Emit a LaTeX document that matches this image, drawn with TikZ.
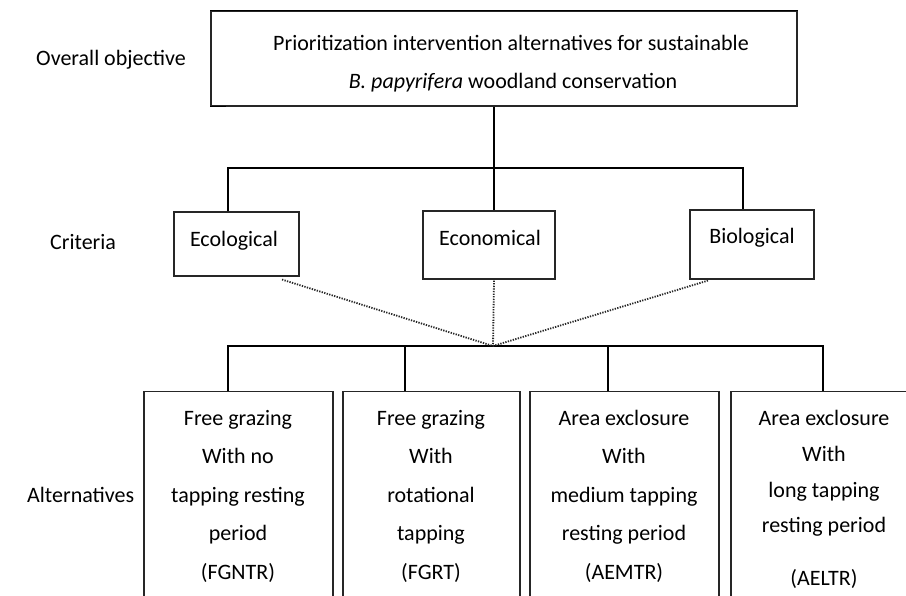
\documentclass[tikz,border=0pt]{standalone}
\usepackage{fontspec}
\setmainfont{Carlito}
\usetikzlibrary{calc}
\newcommand\fsz{\fontsize{22}{26}\selectfont}
\tikzset{
  lbl/.style={font=\fsz, inner sep=0pt, anchor=base},
  lblw/.style={font=\fsz, inner sep=0pt, anchor=base west},
  cbox/.style={draw=black!85, line width=1.1pt, inner sep=0pt, fill=none},
  conn/.style={line width=1.5pt, black},
  dotl/.style={line width=1.8pt, black!85, dash pattern=on 1.3pt off 1.3pt},
}
\begin{document}
\begin{tikzpicture}[x=1pt,y=-1pt]
\useasboundingbox (0,0) rectangle (906,596);
\clip (0,0) rectangle (906,596);
\fill[white] (0,0) rectangle (906,596);

% overall objective
\node[cbox, minimum width=586pt, minimum height=95pt] (top) at (504,58.5) {};
\draw[line width=1.8pt] (top.north west) -- (top.north east);
\draw[line width=1.5pt] (top.south west) -- ++(16,0);
\node[lbl] (t1) at (511,51) {Prioritization intervention alternatives for sustainable};
\node[lbl] (t2) at (513,89) {\textit{B. papyrifera} woodland conservation};
\node[lblw] (lo) at (36,66) {Overall objective};

% criteria
\node[cbox, minimum width=125pt, minimum height=64pt] (eco) at (236.5,244) {};
\node[cbox, minimum width=132pt, minimum height=68pt] (econ) at (489,245) {};
\node[cbox, minimum width=124pt, minimum height=69pt] (bio) at (752,244.5) {};
\node[lbl] (teco) at (234,247) {Ecological};
\node[lbl] (tecon) at (490,246) {Economical};
\node[lbl] (tbio) at (752,244) {Biological};
\node[lblw] (lc) at (50,250) {Criteria};

\coordinate (j1) at (494,168);
\coordinate (h1) at (228,168);
\coordinate (h3) at (743,168);
\draw[conn] (top.south -| j1) -- (j1 |- econ.north);
\draw[conn] (h1 |- eco.north) -- (h1) -- (h3) -- (h3 |- bio.north);

% alternatives
\node[cbox, minimum width=189pt, minimum height=270pt, anchor=north] (b1) at (238.5,391) {};
\node[cbox, minimum width=177pt, minimum height=270pt, anchor=north] (b2) at (431.5,391) {};
\node[cbox, minimum width=189pt, minimum height=270pt, anchor=north] (b3) at (624.5,391) {};
\node[cbox, minimum width=186pt, minimum height=270pt, anchor=north] (b4) at (824,391) {};
\node[lblw] (la) at (27,502) {Alternatives};

\foreach \t [count=\i] in {Free grazing, With no, tapping resting, period, (FGNTR)}
  \node[lbl] (p1l\i) at (238, 425+38.5*\i-38.5) {\t};
\foreach \t [count=\i] in {Free grazing, With, rotational, tapping, (FGRT)}
  \node[lbl] (p2l\i) at (431, 425+38.5*\i-38.5) {\t};
\foreach \t [count=\i] in {Area exclosure, With, medium tapping, resting period, (AEMTR)}
  \node[lbl] (p3l\i) at (624, 425+38.5*\i-38.5) {\t};
\foreach \t/\yy [count=\i] in {Area exclosure/425, With/461, long tapping/497, resting period/532, (AELTR)/585}
  \node[lbl] (p4l\i) at (824, \yy) {\t};

\coordinate (c) at (493,346);
\coordinate (g1) at (228,346);
\coordinate (g2) at (405,346);
\coordinate (g3) at (608,346);
\coordinate (g4) at (823,346);
\draw[conn] (g1 |- b1.north) -- (g1) -- (g4) -- (g4 |- b4.north);
\draw[conn] (g2) -- (g2 |- b2.north);
\draw[conn] (g3) -- (g3 |- b3.north);

\draw[dotl] ($(eco.south)+(45.5,3)$) -- (c);
\draw[dotl] ($(econ.south)+(5,1)$) -- (c);
\draw[dotl] ($(bio.south)+(-44,1)$) -- (c);
\end{tikzpicture}
\end{document}
